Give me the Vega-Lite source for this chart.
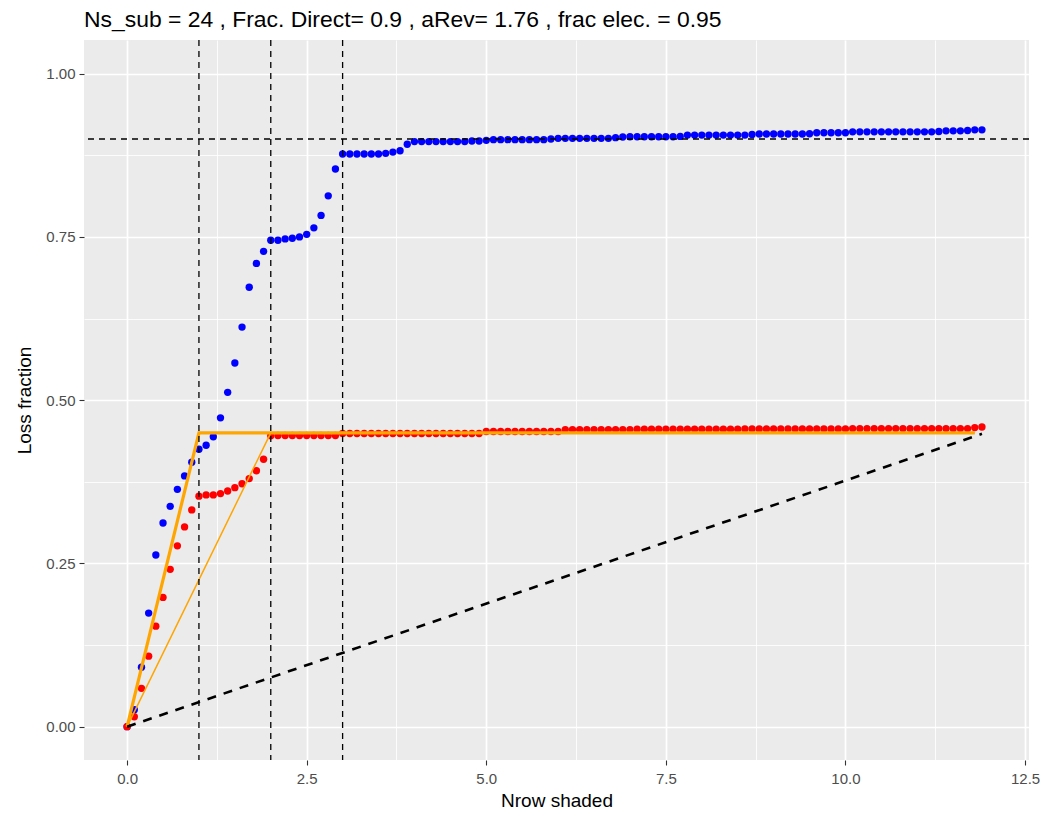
{
  "$schema": "https://vega.github.io/schema/vega-lite/v6.json",
  "width": 945,
  "height": 720,
  "autosize": {"type": "none"},
  "padding": {"left": 84, "top": 40, "right": 21, "bottom": 53},
  "config": {
    "view": {"fill": "#EBEBEB", "stroke": null},
    "font": "Liberation Sans",
    "axis": {
      "domain": false,
      "zindex": 0,
      "gridColor": "#FFFFFF",
      "tickColor": "#333333",
      "tickWidth": 1.1,
      "tickSize": 5,
      "labelColor": "#4D4D4D",
      "labelFontSize": 15,
      "labelFont": "Liberation Sans",
      "titleFont": "Liberation Sans",
      "titleFontSize": 19,
      "titleFontWeight": "normal",
      "titleColor": "#000000"
    }
  },
  "title": {
    "text": "Ns_sub = 24 , Frac. Direct= 0.9 , aRev= 1.76 , frac elec. = 0.95",
    "anchor": "start",
    "frame": "group",
    "fontSize": 22.9,
    "fontWeight": "normal",
    "font": "Liberation Sans",
    "color": "#000000",
    "baseline": "alphabetic",
    "offset": 14,
    "dy": 25
  },
  "datasets": {
    "blue": [
      {"x": 0, "y": 0}, {"x": 0.1, "y": 0.026}, {"x": 0.2, "y": 0.091}, {"x": 0.3, "y": 0.174}, {"x": 0.4, "y": 0.263},
      {"x": 0.5, "y": 0.312}, {"x": 0.6, "y": 0.3375}, {"x": 0.7, "y": 0.3635}, {"x": 0.8, "y": 0.384}, {"x": 0.9, "y": 0.405},
      {"x": 1.0, "y": 0.425}, {"x": 1.1, "y": 0.431}, {"x": 1.2, "y": 0.444}, {"x": 1.3, "y": 0.473}, {"x": 1.4, "y": 0.512},
      {"x": 1.5, "y": 0.557}, {"x": 1.6, "y": 0.612}, {"x": 1.7, "y": 0.673}, {"x": 1.8, "y": 0.7095}, {"x": 1.9, "y": 0.728},
      {"x": 2.0, "y": 0.745}, {"x": 2.1, "y": 0.745}, {"x": 2.2, "y": 0.747}, {"x": 2.3, "y": 0.748}, {"x": 2.4, "y": 0.75},
      {"x": 2.5, "y": 0.754}, {"x": 2.6, "y": 0.764}, {"x": 2.7, "y": 0.783}, {"x": 2.8, "y": 0.813}, {"x": 2.9, "y": 0.854},
      {"x": 3.0, "y": 0.877}, {"x": 3.1, "y": 0.877}, {"x": 3.2, "y": 0.877}, {"x": 3.3, "y": 0.877}, {"x": 3.4, "y": 0.877},
      {"x": 3.5, "y": 0.877}, {"x": 3.6, "y": 0.878}, {"x": 3.7, "y": 0.88}, {"x": 3.8, "y": 0.882}, {"x": 3.9, "y": 0.892},
      {"x": 4.0, "y": 0.896}, {"x": 4.1, "y": 0.896}, {"x": 4.2, "y": 0.896}, {"x": 4.3, "y": 0.896}, {"x": 4.4, "y": 0.896},
      {"x": 4.5, "y": 0.896}, {"x": 4.6, "y": 0.896}, {"x": 4.7, "y": 0.896}, {"x": 4.8, "y": 0.897}, {"x": 4.9, "y": 0.897},
      {"x": 5.0, "y": 0.898}, {"x": 5.1, "y": 0.899}, {"x": 5.2, "y": 0.899}, {"x": 5.3, "y": 0.899}, {"x": 5.4, "y": 0.899},
      {"x": 5.5, "y": 0.899}, {"x": 5.6, "y": 0.899}, {"x": 5.7, "y": 0.899}, {"x": 5.8, "y": 0.899}, {"x": 5.9, "y": 0.9},
      {"x": 6.0, "y": 0.901}, {"x": 6.1, "y": 0.901}, {"x": 6.2, "y": 0.901}, {"x": 6.3, "y": 0.901}, {"x": 6.4, "y": 0.901},
      {"x": 6.5, "y": 0.901}, {"x": 6.6, "y": 0.901}, {"x": 6.7, "y": 0.901}, {"x": 6.8, "y": 0.902}, {"x": 6.9, "y": 0.903},
      {"x": 7.0, "y": 0.9035}, {"x": 7.1, "y": 0.9035}, {"x": 7.2, "y": 0.9035}, {"x": 7.3, "y": 0.9035}, {"x": 7.4, "y": 0.9035},
      {"x": 7.5, "y": 0.9035}, {"x": 7.6, "y": 0.9035}, {"x": 7.7, "y": 0.904}, {"x": 7.8, "y": 0.906}, {"x": 7.9, "y": 0.906},
      {"x": 8.0, "y": 0.906}, {"x": 8.1, "y": 0.906}, {"x": 8.2, "y": 0.906}, {"x": 8.3, "y": 0.906}, {"x": 8.4, "y": 0.906},
      {"x": 8.5, "y": 0.906}, {"x": 8.6, "y": 0.906}, {"x": 8.7, "y": 0.907}, {"x": 8.8, "y": 0.9077}, {"x": 8.9, "y": 0.9077},
      {"x": 9.0, "y": 0.9077}, {"x": 9.1, "y": 0.9077}, {"x": 9.2, "y": 0.9077}, {"x": 9.3, "y": 0.9077}, {"x": 9.4, "y": 0.9077},
      {"x": 9.5, "y": 0.908}, {"x": 9.6, "y": 0.9095}, {"x": 9.7, "y": 0.9095}, {"x": 9.8, "y": 0.9095}, {"x": 9.9, "y": 0.9095},
      {"x": 10.0, "y": 0.9095}, {"x": 10.1, "y": 0.911}, {"x": 10.2, "y": 0.911}, {"x": 10.3, "y": 0.911}, {"x": 10.4, "y": 0.911},
      {"x": 10.5, "y": 0.911}, {"x": 10.6, "y": 0.911}, {"x": 10.7, "y": 0.911}, {"x": 10.8, "y": 0.911}, {"x": 10.9, "y": 0.911},
      {"x": 11.0, "y": 0.911}, {"x": 11.1, "y": 0.911}, {"x": 11.2, "y": 0.911}, {"x": 11.3, "y": 0.9115}, {"x": 11.4, "y": 0.9125},
      {"x": 11.5, "y": 0.9125}, {"x": 11.6, "y": 0.9125}, {"x": 11.7, "y": 0.913}, {"x": 11.8, "y": 0.914}, {"x": 11.9, "y": 0.914}
    ],
    "red": [
      {"x": 0, "y": 0}, {"x": 0.1, "y": 0.0153}, {"x": 0.2, "y": 0.0588}, {"x": 0.3, "y": 0.108}, {"x": 0.4, "y": 0.154},
      {"x": 0.5, "y": 0.198}, {"x": 0.6, "y": 0.241}, {"x": 0.7, "y": 0.277}, {"x": 0.8, "y": 0.306}, {"x": 0.9, "y": 0.332},
      {"x": 1.0, "y": 0.353}, {"x": 1.1, "y": 0.355}, {"x": 1.2, "y": 0.355}, {"x": 1.3, "y": 0.357}, {"x": 1.4, "y": 0.361},
      {"x": 1.5, "y": 0.366}, {"x": 1.6, "y": 0.372}, {"x": 1.7, "y": 0.38}, {"x": 1.8, "y": 0.392}, {"x": 1.9, "y": 0.4095},
      {"x": 2.0, "y": 0.4455}, {"x": 2.1, "y": 0.446}, {"x": 2.2, "y": 0.446}, {"x": 2.3, "y": 0.446}, {"x": 2.4, "y": 0.446},
      {"x": 2.5, "y": 0.446}, {"x": 2.6, "y": 0.446}, {"x": 2.7, "y": 0.446}, {"x": 2.8, "y": 0.446}, {"x": 2.9, "y": 0.446},
      {"x": 3.0, "y": 0.449}, {"x": 3.1, "y": 0.449}, {"x": 3.2, "y": 0.449}, {"x": 3.3, "y": 0.449}, {"x": 3.4, "y": 0.449},
      {"x": 3.5, "y": 0.449}, {"x": 3.6, "y": 0.449}, {"x": 3.7, "y": 0.449}, {"x": 3.8, "y": 0.449}, {"x": 3.9, "y": 0.449},
      {"x": 4.0, "y": 0.449}, {"x": 4.1, "y": 0.449}, {"x": 4.2, "y": 0.449}, {"x": 4.3, "y": 0.449}, {"x": 4.4, "y": 0.449},
      {"x": 4.5, "y": 0.449}, {"x": 4.6, "y": 0.449}, {"x": 4.7, "y": 0.449}, {"x": 4.8, "y": 0.449}, {"x": 4.9, "y": 0.449},
      {"x": 5.0, "y": 0.452}, {"x": 5.1, "y": 0.452}, {"x": 5.2, "y": 0.452}, {"x": 5.3, "y": 0.452}, {"x": 5.4, "y": 0.452},
      {"x": 5.5, "y": 0.452}, {"x": 5.6, "y": 0.452}, {"x": 5.7, "y": 0.452}, {"x": 5.8, "y": 0.452}, {"x": 5.9, "y": 0.452},
      {"x": 6.0, "y": 0.452}, {"x": 6.1, "y": 0.455}, {"x": 6.2, "y": 0.455}, {"x": 6.3, "y": 0.455}, {"x": 6.4, "y": 0.455},
      {"x": 6.5, "y": 0.455}, {"x": 6.6, "y": 0.455}, {"x": 6.7, "y": 0.455}, {"x": 6.8, "y": 0.455}, {"x": 6.9, "y": 0.455},
      {"x": 7.0, "y": 0.455}, {"x": 7.1, "y": 0.4555}, {"x": 7.2, "y": 0.4555}, {"x": 7.3, "y": 0.4555}, {"x": 7.4, "y": 0.4555},
      {"x": 7.5, "y": 0.4555}, {"x": 7.6, "y": 0.4555}, {"x": 7.7, "y": 0.4555}, {"x": 7.8, "y": 0.4555}, {"x": 7.9, "y": 0.4555},
      {"x": 8.0, "y": 0.4555}, {"x": 8.1, "y": 0.4555}, {"x": 8.2, "y": 0.4555}, {"x": 8.3, "y": 0.4555}, {"x": 8.4, "y": 0.4555},
      {"x": 8.5, "y": 0.4555}, {"x": 8.6, "y": 0.456}, {"x": 8.7, "y": 0.456}, {"x": 8.8, "y": 0.456}, {"x": 8.9, "y": 0.456},
      {"x": 9.0, "y": 0.456}, {"x": 9.1, "y": 0.456}, {"x": 9.2, "y": 0.456}, {"x": 9.3, "y": 0.456}, {"x": 9.4, "y": 0.456},
      {"x": 9.5, "y": 0.456}, {"x": 9.6, "y": 0.456}, {"x": 9.7, "y": 0.456}, {"x": 9.8, "y": 0.456}, {"x": 9.9, "y": 0.456},
      {"x": 10.0, "y": 0.456}, {"x": 10.1, "y": 0.4565}, {"x": 10.2, "y": 0.4565}, {"x": 10.3, "y": 0.4565}, {"x": 10.4, "y": 0.4565},
      {"x": 10.5, "y": 0.4565}, {"x": 10.6, "y": 0.4565}, {"x": 10.7, "y": 0.4565}, {"x": 10.8, "y": 0.4565}, {"x": 10.9, "y": 0.4565},
      {"x": 11.0, "y": 0.4565}, {"x": 11.1, "y": 0.4565}, {"x": 11.2, "y": 0.4565}, {"x": 11.3, "y": 0.4565}, {"x": 11.4, "y": 0.4565},
      {"x": 11.5, "y": 0.4565}, {"x": 11.6, "y": 0.4565}, {"x": 11.7, "y": 0.4565}, {"x": 11.8, "y": 0.458}, {"x": 11.9, "y": 0.459}
    ],
    "orangeThick": [
      {"x": 0, "y": 0, "o": 1}, {"x": 1, "y": 0.45, "o": 2}, {"x": 11.8, "y": 0.45, "o": 3}
    ],
    "orangeThin": [
      {"x": 0, "y": 0, "o": 1}, {"x": 2, "y": 0.45, "o": 2}, {"x": 11.8, "y": 0.45, "o": 3}
    ],
    "diag": [
      {"x": 0, "y": 0}, {"x": 11.9, "y": 0.4485}
    ],
    "vlines": [{"x": 1}, {"x": 2}, {"x": 3}],
    "hlines": [{"y": 0.9}]
  },
  "layer": [
    {
      "data": {"name": "blue"},
      "mark": {"type": "circle", "color": "#0000FF", "opacity": 1, "size": 54},
      "encoding": {
        "x": {
          "field": "x", "type": "quantitative",
          "scale": {"domain": [-0.6, 12.555], "nice": false, "zero": false},
          "axis": {
            "title": "Nrow shaded",
            "values": [0, 1.25, 2.5, 3.75, 5, 6.25, 7.5, 8.75, 10, 11.25, 12.5],
            "labelExpr": "datum.value % 2.5 === 0 ? format(datum.value, '.1f') : ''",
            "gridWidth": {"condition": {"test": "datum.value % 2.5 === 0", "value": 1.7}, "value": 0.85},
            "tickOpacity": {"condition": {"test": "datum.value % 2.5 === 0", "value": 1}, "value": 0},
            "labelPadding": 6,
            "titlePadding": 5,
            "labelFlush": false,
            "labelOverlap": false
          }
        },
        "y": {
          "field": "y", "type": "quantitative",
          "scale": {"domain": [-0.051, 1.0516], "nice": false, "zero": false},
          "axis": {
            "title": "Loss fraction",
            "values": [0, 0.125, 0.25, 0.375, 0.5, 0.625, 0.75, 0.875, 1],
            "labelExpr": "datum.value % 0.25 === 0 ? format(datum.value, '.2f') : ''",
            "gridWidth": {"condition": {"test": "datum.value % 0.25 === 0", "value": 1.7}, "value": 0.85},
            "tickOpacity": {"condition": {"test": "datum.value % 0.25 === 0", "value": 1}, "value": 0},
            "labelPadding": 4,
            "titlePadding": 11,
            "labelFlush": false,
            "labelOverlap": false
          }
        }
      }
    },
    {
      "data": {"name": "red"},
      "mark": {"type": "circle", "color": "#FF0000", "opacity": 1, "size": 54},
      "encoding": {
        "x": {"field": "x", "type": "quantitative"},
        "y": {"field": "y", "type": "quantitative"}
      }
    },
    {
      "data": {"name": "orangeThin"},
      "mark": {"type": "line", "color": "#FFA500", "strokeWidth": 1.5},
      "encoding": {
        "x": {"field": "x", "type": "quantitative"},
        "y": {"field": "y", "type": "quantitative"},
        "order": {"field": "o", "type": "quantitative"}
      }
    },
    {
      "data": {"name": "orangeThick"},
      "mark": {"type": "line", "color": "#FFA500", "strokeWidth": 3.2},
      "encoding": {
        "x": {"field": "x", "type": "quantitative"},
        "y": {"field": "y", "type": "quantitative"},
        "order": {"field": "o", "type": "quantitative"}
      }
    },
    {
      "data": {"name": "diag"},
      "mark": {"type": "line", "color": "#000000", "strokeWidth": 2.6, "strokeDash": [9, 8]},
      "encoding": {
        "x": {"field": "x", "type": "quantitative"},
        "y": {"field": "y", "type": "quantitative"}
      }
    },
    {
      "data": {"name": "vlines"},
      "mark": {"type": "rule", "color": "#000000", "strokeWidth": 1.3, "strokeDash": [6, 5]},
      "encoding": {
        "x": {"field": "x", "type": "quantitative"}
      }
    },
    {
      "data": {"name": "hlines"},
      "mark": {"type": "rule", "color": "#000000", "strokeWidth": 1.3, "strokeDash": [6, 5]},
      "encoding": {
        "y": {"field": "y", "type": "quantitative"}
      }
    }
  ]
}
